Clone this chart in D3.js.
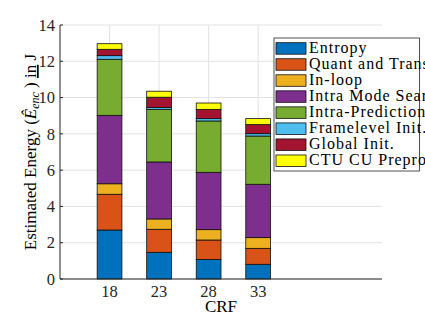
<!DOCTYPE html>
<html>
<head>
<meta charset="utf-8">
<script src="https://cdn.jsdelivr.net/npm/d3@7"></script>
<style>
  body { margin: 0; background: #fff; }
  svg { display: block; font-family: 'Liberation Serif', serif; }
  .tick-label { font-size: 16.5px; fill: #262626; }
  .legend-label { font-size: 16px; fill: #000; letter-spacing: 1px; }
</style>
</head>
<body>
<div id="chart"></div>
<script>
// CRF values on the x axis
const crf = [18, 23, 28, 33];

// stacked components (bottom to top)
const components = ['Entropy', 'Quant and Transform', 'In-loop', 'Intra Mode Search',
  'Intra-Prediction', 'Framelevel Init.', 'Global Init.', 'CTU CU Preprocessing'];

const entropy    = [2.70, 1.47, 1.08, 0.81];
const quant      = [1.97, 1.27, 1.07, 0.88];
const inloop     = [0.58, 0.57, 0.57, 0.59];
const intraMode  = [3.77, 3.14, 3.16, 2.94];
const intraPred  = [3.09, 2.90, 2.83, 2.66];
const frameInit  = [0.20, 0.10, 0.13, 0.13];
const globalInit = [0.35, 0.57, 0.51, 0.50];
const ctuPre     = [0.31, 0.33, 0.35, 0.33];

const yTicks = [0, 2, 4, 6, 8, 10, 12, 14];

const colors = ['#0072BD', '#D95319', '#EDB120', '#7E2F8E', '#77AC30', '#4DBEEE', '#A2142F', '#FFFF00'];

const series = [entropy, quant, inloop, intraMode, intraPred, frameInit, globalInit, ctuPre];

// build table for d3.stack
const table = crf.map((c, i) => {
  const row = {crf: c};
  components.forEach((k, j) => row[k] = series[j][i]);
  return row;
});

const W = 425, H = 315;
const margin = {top: 25, right: 43, bottom: 36, left: 60};
const width = W - margin.left - margin.right;
const height = H - margin.top - margin.bottom;

const svg = d3.select('#chart').append('svg')
    .attr('width', W)
    .attr('height', H);

const x = d3.scaleLinear().domain([13, 45.5]).range([0, width]);
const y = d3.scaleLinear().domain([0, 14]).range([height, 0]);

const g = svg.append('g')
    .attr('transform', `translate(${margin.left},${margin.top})`);

// grid
g.append('g').selectAll('line')
  .data(yTicks)
  .join('line')
    .attr('x1', 0).attr('x2', width)
    .attr('y1', d => y(d)).attr('y2', d => y(d))
    .attr('stroke', '#e3e3e3');

g.append('g').selectAll('line')
  .data(crf)
  .join('line')
    .attr('x1', d => x(d)).attr('x2', d => x(d))
    .attr('y1', 0).attr('y2', height)
    .attr('stroke', '#e3e3e3');

// bars
const stacked = d3.stack().keys(components)(table);
const barW = (x(23) - x(18)) * 0.5;

g.append('g').selectAll('g')
  .data(stacked)
  .join('g')
    .attr('fill', (d, i) => colors[i])
  .selectAll('rect')
  .data(d => d)
  .join('rect')
    .attr('x', d => x(d.data.crf) - barW / 2)
    .attr('width', barW)
    .attr('y', d => y(d[1]))
    .attr('height', d => y(d[0]) - y(d[1]))
    .attr('stroke', '#111')
    .attr('stroke-width', 0.8);

// axes
const xAxis = g.append('g').attr('transform', `translate(0,${height})`);
xAxis.append('line')
    .attr('x1', 0).attr('x2', width)
    .attr('stroke', '#262626');
xAxis.selectAll('text')
  .data(crf)
  .join('text')
    .attr('class', 'tick-label')
    .attr('x', d => x(d))
    .attr('y', 17.5)
    .attr('text-anchor', 'middle')
    .text(d => d);

const yAxis = g.append('g');
yAxis.append('line')
    .attr('y1', 0).attr('y2', height)
    .attr('stroke', '#262626');
yAxis.selectAll('line.tk')
  .data(yTicks)
  .join('line')
    .attr('class', 'tk')
    .attr('x1', 0).attr('x2', 3)
    .attr('y1', d => y(d)).attr('y2', d => y(d))
    .attr('stroke', '#262626');
yAxis.selectAll('text')
  .data(yTicks)
  .join('text')
    .attr('class', 'tick-label')
    .attr('x', -5)
    .attr('y', d => y(d))
    .attr('dy', '0.35em')
    .attr('text-anchor', 'end')
    .text(d => d);

// axis titles
svg.append('text')
    .attr('x', margin.left + width / 2)
    .attr('y', 312)
    .attr('text-anchor', 'middle')
    .style('font-size', '17px')
    .text('CRF');

const yl = svg.append('text')
    .attr('transform', `translate(36,${margin.top + height / 2}) rotate(-90)`)
    .attr('text-anchor', 'middle')
    .style('font-size', '17px');
yl.append('tspan').text('Estimated Energy (');
yl.append('tspan').style('font-style', 'italic').text('\u00CA');
yl.append('tspan').style('font-style', 'italic').style('font-size', '12px').attr('dy', 3).text('enc');
yl.append('tspan').attr('dy', -3).text(' ) ');
yl.append('tspan').style('text-decoration', 'underline').text('in');
yl.append('tspan').text(' J');

// legend
const legend = svg.append('g').attr('transform', 'translate(274,38)');
legend.append('rect')
    .attr('width', 145.5).attr('height', 133)
    .attr('fill', '#fff')
    .attr('stroke', '#262626')
    .attr('stroke-width', 0.8);

const item = legend.selectAll('g.item')
  .data(components)
  .join('g')
    .attr('class', 'item')
    .attr('transform', (d, i) => `translate(2,${4.7 + i * 16.04})`);
item.append('rect')
    .attr('width', 30).attr('height', 11.5)
    .attr('fill', (d, i) => colors[i])
    .attr('stroke', '#111')
    .attr('stroke-width', 0.8);
item.append('text')
    .attr('class', 'legend-label')
    .attr('x', 33)
    .attr('y', 10.5)
    .text(d => d);
</script>
</body>
</html>
